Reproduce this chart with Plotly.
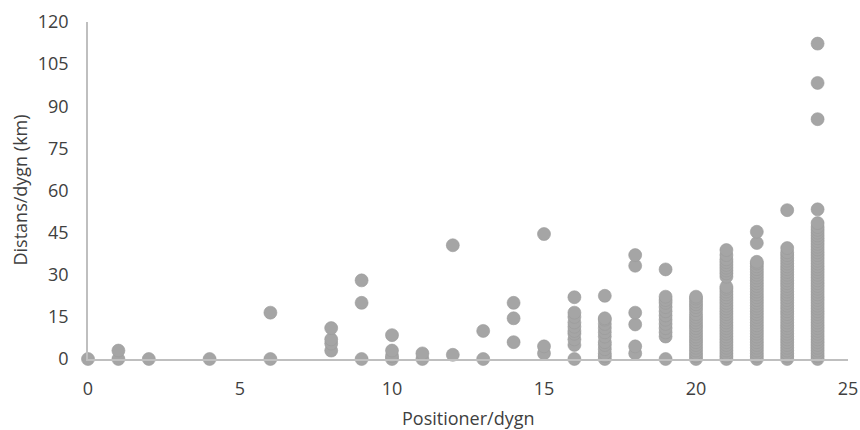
import plotly.graph_objects as go

# Distance per day (km) observed for each number of positions per day
pos_0 = [0]
pos_1 = [0, 3]
pos_2 = [0]
pos_4 = [0]
pos_6 = [0, 16.5]
pos_8 = [3, 5.5, 7, 11]
pos_9 = [0, 20, 28]
pos_10 = [0, 1, 3, 8.5]
pos_11 = [0, 2]
pos_12 = [1.5, 40.5]
pos_13 = [0, 10]
pos_14 = [6, 14.5, 20]
pos_15 = [2, 4.5, 44.5]
pos_16 = [0, 5, 7, 9, 10, 11.5, 13, 15, 16.5, 22]
pos_17 = [0, 1, 2, 3.5, 5, 6, 8, 9.5, 11, 12.5, 14, 14.5, 22.5]
pos_18 = [2, 4.5, 12.3, 16.5, 33.2, 37]
pos_19 = [0, 8, 9.5, 11, 12.5, 14, 15.5, 17, 18.5, 20, 21, 22.2, 31.9]
pos_20 = [0, 1, 2, 3, 4, 5, 6, 7, 8, 9, 10, 11, 12, 13, 14, 15, 16, 17.4,
          18.5, 19.5, 20.5, 21.5, 22.2]
pos_21 = [0, 1, 2, 3, 4, 5, 6, 7, 8, 9, 10, 11, 12, 13, 14, 15, 16, 17, 18,
          19, 20, 21, 22, 23, 24, 25, 25.7, 29.3, 30.5, 31.5, 32.5, 33.5,
          34.5, 35.5, 37, 38.8]
pos_22 = [0, 1, 2, 3, 4, 5, 6, 7, 8, 9, 10, 11, 12, 13, 14, 15, 16, 17, 18,
          19, 20, 21, 22, 23, 24, 25, 26, 27, 28, 29, 30, 31, 32, 33, 34,
          34.6, 41.3, 45.3]
pos_23 = [0, 1, 2, 3, 4, 5, 6, 7, 8, 9, 10, 11, 12, 13, 14, 15, 16, 17, 18,
          19, 20, 21, 22, 23, 24, 25, 26, 27, 28, 29, 30, 31, 32, 33, 34,
          35, 36, 37, 38, 39.5, 53]
pos_24 = [0, 1, 2, 3, 4, 5, 6, 7, 8, 9, 10, 11, 12, 13, 14, 15, 16, 17, 18,
          19, 20, 21, 22, 23, 24, 25, 26, 27, 28, 29, 30, 31, 32, 33, 34,
          35, 36, 37, 38, 39, 40, 41, 42, 43, 44, 45, 46, 47, 48.4, 53.3,
          85.4, 98.3, 112.3]

positions = [0, 1, 2, 4, 6, 8, 9, 10, 11, 12, 13, 14, 15, 16, 17, 18, 19,
             20, 21, 22, 23, 24]
distances = [pos_0, pos_1, pos_2, pos_4, pos_6, pos_8, pos_9, pos_10, pos_11,
             pos_12, pos_13, pos_14, pos_15, pos_16, pos_17, pos_18, pos_19,
             pos_20, pos_21, pos_22, pos_23, pos_24]

x_ticks = [0, 5, 10, 15, 20, 25]
y_ticks = [0, 15, 30, 45, 60, 75, 90, 105, 120]
x_title = "Positioner/dygn"
y_title = "Distans/dygn (km)"

xs, ys = [], []
for p, vals in zip(positions, distances):
    for v in vals:
        xs.append(p)
        ys.append(v)

font_family = "Open Sans, Liberation Sans, sans-serif"
text_color = "#404040"

fig = go.Figure(go.Scatter(
    x=xs, y=ys, mode="markers",
    marker=dict(size=13, color="#a5a5a5", line=dict(width=0.6, color="#9a9a9a")),
    cliponaxis=False, showlegend=False,
))

fig.update_layout(
    width=860, height=430,
    margin=dict(l=88, r=12, t=22, b=71),
    paper_bgcolor="white", plot_bgcolor="white",
    font=dict(family=font_family, size=18, color=text_color),
    annotations=[
        dict(text=x_title, xref="paper", yref="paper", x=0.5, y=0,
             xanchor="center", yanchor="middle", yshift=-59, showarrow=False,
             font=dict(size=18, color=text_color)),
        dict(text=y_title, xref="paper", yref="paper", x=0, y=0.5,
             xanchor="center", yanchor="middle", xshift=-69, textangle=-90,
             showarrow=False, font=dict(size=18, color=text_color)),
    ],
)
fig.update_xaxes(
    range=[0, 25], tickvals=x_ticks, showgrid=False, zeroline=False,
    showline=True, linecolor="#bfbfbf", linewidth=1.5, automargin=False,
    ticks="outside", ticklen=13, tickcolor="rgba(0,0,0,0)",
    tickfont=dict(size=18, color=text_color),
)
fig.update_yaxes(
    range=[0, 120], tickvals=y_ticks, showgrid=False, zeroline=False,
    showline=True, linecolor="#bfbfbf", linewidth=1.5, automargin=False,
    ticks="outside", ticklen=14, tickcolor="rgba(0,0,0,0)",
    tickfont=dict(size=18, color=text_color),
)

fig.write_html("out.html", config={"displayModeBar": False},
               post_script="document.body.style.margin='0';document.body.style.overflow='hidden';")
